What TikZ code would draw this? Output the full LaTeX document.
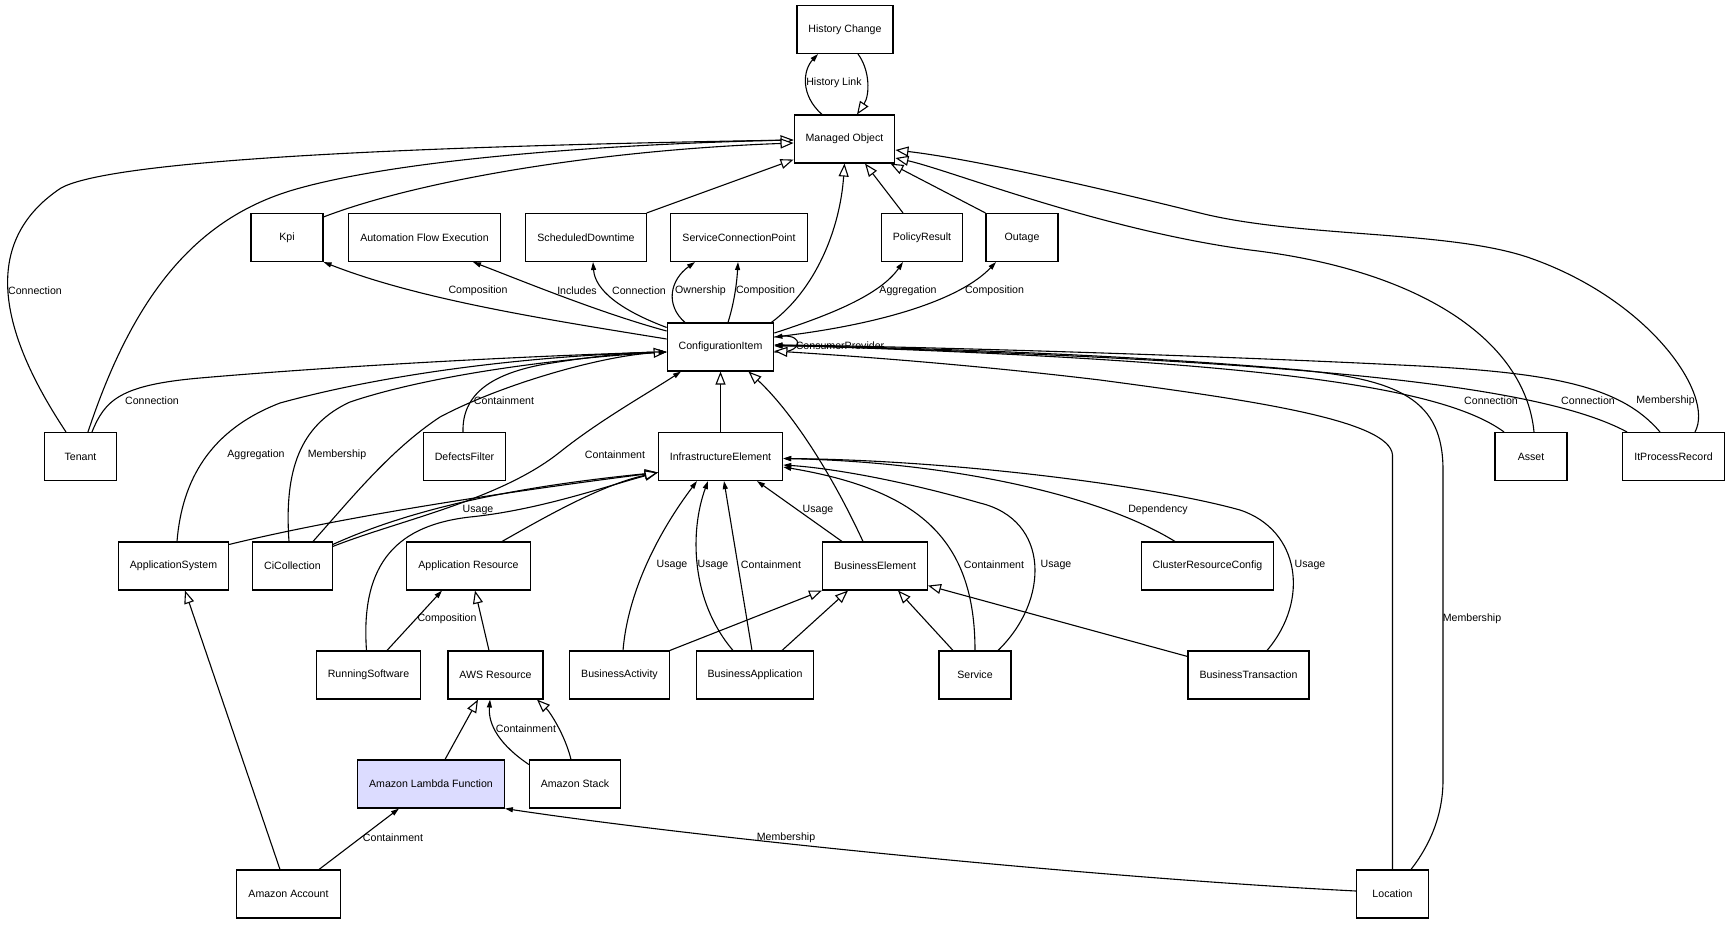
\documentclass[tikz,border=0pt]{standalone}
\usepackage{fontspec}
\setmainfont{Liberation Sans}
\usetikzlibrary{arrows.meta}
\definecolor{lambdablue}{RGB}{220,220,255}
\newcommand{\umlfont}{\fontsize{10.6pt}{12pt}\selectfont}

\begin{document}
\begin{tikzpicture}[x=1pt,y=-1pt,
umlbox/.style={draw, line width=1.1pt, minimum width=72pt, minimum height=48pt, inner xsep=11.5pt, font=\umlfont},
lbl/.style={inner sep=0pt, font=\umlfont},
gen/.style={line width=1.1pt, -{Triangle[length=13pt,width=10pt,fill=white]}},
assoc/.style={line width=1.1pt, -{Triangle[length=8pt,width=5pt]}}]
\useasboundingbox (0,0) rectangle (1731,924);

\node[umlbox] (hc) at (845,29.5) {History Change};
\node[umlbox] (mo) at (844.5,139) {Managed Object};
\node[umlbox] (kpi) at (287,237.5) {Kpi};
\node[umlbox] (afe) at (424.5,237.5) {Automation Flow Execution};
\node[umlbox] (sd) at (586,237.5) {ScheduledDowntime};
\node[umlbox] (scp) at (739,237.5) {ServiceConnectionPoint};
\node[umlbox] (pr) at (922,237.5) {PolicyResult};
\node[umlbox] (outage) at (1022,237.5) {Outage};
\node[umlbox] (ci) at (720.5,347) {ConfigurationItem};
\node[umlbox] (ie) at (720.5,456.5) {InfrastructureElement};
\node[umlbox] (tenant) at (80.5,456.5) {Tenant};
\node[umlbox] (df) at (464.5,456.5) {DefectsFilter};
\node[umlbox] (asset) at (1531,456.5) {Asset};
\node[umlbox] (ipr) at (1673.5,456.5) {ItProcessRecord};
\node[umlbox] (appsys) at (173.5,566) {ApplicationSystem};
\node[umlbox] (cic) at (292.5,566) {CiCollection};
\node[umlbox] (ar) at (468.5,566) {Application Resource};
\node[umlbox] (be) at (875,566) {BusinessElement};
\node[umlbox] (crc) at (1207.5,566) {ClusterResourceConfig};
\node[umlbox] (rs) at (368.5,675) {RunningSoftware};
\node[umlbox] (aws) at (495.5,675) {AWS Resource};
\node[umlbox] (ba) at (619.5,675) {BusinessActivity};
\node[umlbox] (bapp) at (755,675) {BusinessApplication};
\node[umlbox] (svc) at (975,675) {Service};
\node[umlbox] (bt) at (1248.5,675) {BusinessTransaction};
\node[umlbox, fill=lambdablue] (alf) at (431,784) {Amazon Lambda Function};
\node[umlbox] (ast) at (575,784) {Amazon Stack};
\node[umlbox] (aac) at (288.5,894) {Amazon Account};
\node[umlbox] (loc) at (1392.5,894) {Location};

\draw[assoc] ([xshift=-22.5pt]mo.north) .. controls (800,95) and (803,70) .. ([xshift=-27pt]hc.south);
\draw[gen] ([xshift=13pt]hc.south) .. controls (870,70) and (870,95) .. ([xshift=12.5pt]mo.north);
\draw[assoc] ([xshift=-14.5pt]tenant.north) .. controls (5,340) and (-25,245) .. (61,188) .. controls (101,166) and (300,148) .. ([yshift=-1pt]mo.west);
\draw[gen] ([xshift=7.5pt]tenant.north) .. controls (135,290) and (200,215) .. (300,188) .. controls (420,155) and (650,143) .. ([yshift=-1pt]mo.west);
\draw[gen] ([yshift=-4pt]kpi.north east) .. controls (420,180) and (600,150) .. ([yshift=-4pt]mo.west);
\draw[gen] (sd.north east) -- ([yshift=4pt]mo.south west);
\draw[gen] ([xshift=-19pt]pr.north) -- ([xshift=20.5pt]mo.south);
\draw[gen] (outage.north west) -- ([xshift=-5pt]mo.south east);
\draw[gen] ([xshift=-3pt]ci.north east) .. controls (815,290) and (840,230) .. (mo.south);
\draw[gen] ([xshift=3pt]asset.north) .. controls (1525,340) and (1420,270) .. (1250,250) .. controls (1100,230) and (950,170) .. ([yshift=-19pt]mo.east);
\draw[gen] ([xshift=21.5pt]ipr.north) .. controls (1715,395) and (1650,300) .. (1530,258) .. controls (1450,230) and (1300,238) .. (1200,213) .. controls (1120,193) and (980,160) .. ([yshift=-11pt]mo.east);

\draw[assoc] ([yshift=8pt]ci.west) .. controls (550,320) and (420,300) .. (kpi.south east);
\draw[assoc] ([yshift=16pt]ci.west) .. controls (600,313) and (520,280) .. ([xshift=48.5pt]afe.south);
\draw[assoc] ([yshift=-5pt]ci.north west) .. controls (620,310) and (595,290) .. ([xshift=7pt]sd.south);
\draw[assoc] ([xshift=-35.5pt]ci.north) .. controls (665,305) and (670,280) .. ([xshift=-44pt]scp.south);
\draw[assoc] ([xshift=7.5pt]ci.north) .. controls (735,300) and (737,280) .. ([xshift=-1pt]scp.south);
\draw[assoc] ([yshift=14pt]ci.east) .. controls (830,315) and (880,295) .. ([xshift=-19pt]pr.south);
\draw[assoc] ([yshift=10pt]ci.east) .. controls (880,325) and (960,300) .. ([xshift=-26pt]outage.south);
\draw[assoc] ([yshift=-5pt]ci.east) .. controls (804,354) and (804,334) .. ([yshift=10pt]ci.east);

\draw[assoc] ([xshift=11.5pt]tenant.north) .. controls (105,400) and (120,385) .. (200,378) .. controls (350,365) and (550,355) .. ([yshift=-5pt]ci.west);
\draw[assoc] ([xshift=3.5pt]appsys.north) .. controls (182,480) and (210,430) .. (280,403) .. controls (400,370) and (550,355) .. ([yshift=-5pt]ci.west);
\draw[assoc] ([xshift=-3.5pt]cic.north) .. controls (284,470) and (300,425) .. (350,402) .. controls (430,375) and (560,358) .. ([yshift=-5pt]ci.west);
\draw[gen] ([xshift=20.5pt]cic.north) .. controls (350,500) and (390,450) .. (440,417) .. controls (500,385) and (600,356) .. ([yshift=-5pt]ci.west);
\draw[assoc] ([xshift=-1.5pt]df.north) .. controls (462,395) and (490,375) .. (540,365) .. controls (580,358) and (630,352) .. ([yshift=-5pt]ci.west);
\draw[assoc] ([yshift=-5pt]cic.north east) .. controls (400,520) and (500,500) .. (560,452) .. controls (600,420) and (650,392) .. ([xshift=-39.5pt]ci.south);
\draw[gen] (ie) -- (ci);
\draw[gen] ([xshift=-12pt]be.north) .. controls (830,470) and (790,410) .. ([xshift=28pt]ci.south);

\draw[gen] (loc.north) -- (1392.5,455) .. controls (1390,420) and (1250,400) .. (1100,380) .. controls (950,362) and (820,354) .. ([yshift=-4pt]ci.east);
\draw[assoc] ([xshift=18.5pt]loc.north) .. controls (1430,845) and (1443,815) .. (1443,780) -- (1443,470) .. controls (1443,400) and (1400,380) .. (1300,370) .. controls (1100,352) and (850,346) .. ([yshift=1pt]ci.east);
\draw[assoc] ([xshift=-27pt]asset.north) .. controls (1440,385) and (1250,360) .. ([yshift=2pt]ci.east);
\draw[assoc] ([xshift=-46.5pt]ipr.north) .. controls (1540,385) and (1300,360) .. ([yshift=2pt]ci.east);
\draw[assoc] ([xshift=-13.5pt]ipr.north) .. controls (1620,385) and (1550,372) .. (1400,365) .. controls (1200,355) and (900,346) .. ([yshift=2pt]ci.east);

\draw[assoc] ([yshift=-3pt]cic.north east) .. controls (420,505) and (530,485) .. ([yshift=-16pt]ie.west);
\draw[gen] ([yshift=-3pt]appsys.north east) .. controls (350,515) and (520,490) .. ([yshift=-16pt]ie.west);
\draw[gen] ([xshift=-2pt]rs.north) .. controls (360,560) and (400,525) .. (470,517) .. controls (540,510) and (610,485) .. ([yshift=-16pt]ie.west);
\draw[gen] ([xshift=33.5pt]ar.north) .. controls (540,520) and (600,485) .. ([yshift=-16pt]ie.west);

\draw[assoc] ([xshift=3.5pt]ba.north) .. controls (628,590) and (660,530) .. ([xshift=-23.5pt]ie.south);
\draw[assoc] ([xshift=-22pt]bapp.north) .. controls (690,600) and (690,530) .. ([xshift=-12.5pt]ie.south);
\draw[assoc] ([xshift=-3pt]bapp.north) -- ([xshift=3.5pt]ie.south);
\draw[assoc] ([xshift=-33pt]be.north) -- ([xshift=36.5pt]ie.south);
\draw[assoc] (svc.north) .. controls (975,540) and (920,490) .. ([yshift=-10.5pt]ie.east);
\draw[assoc] ([xshift=23pt]svc.north) .. controls (1050,600) and (1050,520) .. (980,503) .. controls (900,480) and (830,468) .. ([yshift=-8.5pt]ie.east);
\draw[assoc] ([xshift=-32.5pt]crc.north) .. controls (1100,495) and (950,462) .. ([yshift=-2pt]ie.east);
\draw[assoc] ([xshift=18.5pt]bt.north) .. controls (1310,600) and (1300,530) .. (1240,510) .. controls (1150,485) and (950,460) .. ([yshift=-2pt]ie.east);

\draw[gen] (ba.north east) -- (be.south west);
\draw[gen] ([xshift=27pt]bapp.north) -- ([xshift=-27pt]be.south);
\draw[gen] ([xshift=-22pt]svc.north) -- ([xshift=23pt]be.south);
\draw[gen] ([yshift=-6pt]bt.north west) -- ([yshift=5pt]be.south east);

\draw[assoc] ([xshift=18.5pt]rs.north) -- ([xshift=-26.5pt]ar.south);
\draw[gen] ([xshift=-6.5pt]aws.north) -- ([xshift=6.5pt]ar.south);
\draw[gen] ([xshift=14pt]alf.north) -- ([xshift=-17.5pt]aws.south);
\draw[assoc] ([yshift=-5pt]ast.north west) .. controls (500,745) and (488,725) .. ([xshift=-5.5pt]aws.south);
\draw[gen] ([xshift=-4pt]ast.north) .. controls (565,735) and (550,712) .. ([xshift=41.5pt]aws.south);
\draw[assoc] ([xshift=30.5pt]aac.north) -- ([xshift=-32pt]alf.south);
\draw[gen] ([xshift=-8.5pt]aac.north) -- ([xshift=11.5pt]appsys.south);
\draw[assoc] ([yshift=3pt]loc.west) .. controls (1100,878) and (700,838) .. (alf.south east);

\node[lbl] (lHistory) at (834,83) {History Link};
\node[lbl] (lTenantMo) at (35,291) {Connection};
\node[lbl] (lKpi) at (478,291) {Composition};
\node[lbl] (lAfe) at (577,291) {Includes};
\node[lbl] (lSd) at (639,291) {Connection};
\node[lbl] (lScpOwn) at (700.5,291) {Ownership};
\node[lbl] (lScpComp) at (765.5,291) {Composition};
\node[lbl] (lPr) at (908,291) {Aggregation};
\node[lbl] (lOutage) at (994.5,291) {Composition};
\node[lbl] (lSelf) at (840,346) {ConsumerProvider};
\node[lbl] (lTenantCi) at (152,401) {Connection};
\node[lbl] (lDf) at (504,401) {Containment};
\node[lbl] (lAsset) at (1491,401) {Connection};
\node[lbl] (lIprConn) at (1588,401) {Connection};
\node[lbl] (lIprMem) at (1665.5,401) {Membership};
\node[lbl] (lAppsys) at (256,455) {Aggregation};
\node[lbl] (lCicMem) at (337,455) {Membership};
\node[lbl] (lCicCont) at (615,455) {Containment};
\node[lbl] (lCicUse) at (478,510) {Usage};
\node[lbl] (lBeUse) at (818,510) {Usage};
\node[lbl] (lCrc) at (1158,510) {Dependency};
\node[lbl] (lBaUse) at (672,565) {Usage};
\node[lbl] (lBappUse) at (713,565) {Usage};
\node[lbl] (lBappCont) at (771,565) {Containment};
\node[lbl] (lSvcCont) at (994,565) {Containment};
\node[lbl] (lSvcUse) at (1056,565) {Usage};
\node[lbl] (lBtUse) at (1310,565) {Usage};
\node[lbl] (lRs) at (447,619) {Composition};
\node[lbl] (lLocMem) at (1472,619) {Membership};
\node[lbl] (lAst) at (526,729) {Containment};
\node[lbl] (lAac) at (393,838) {Containment};
\node[lbl] (lLoc) at (786,838) {Membership};
\end{tikzpicture}
\end{document}
